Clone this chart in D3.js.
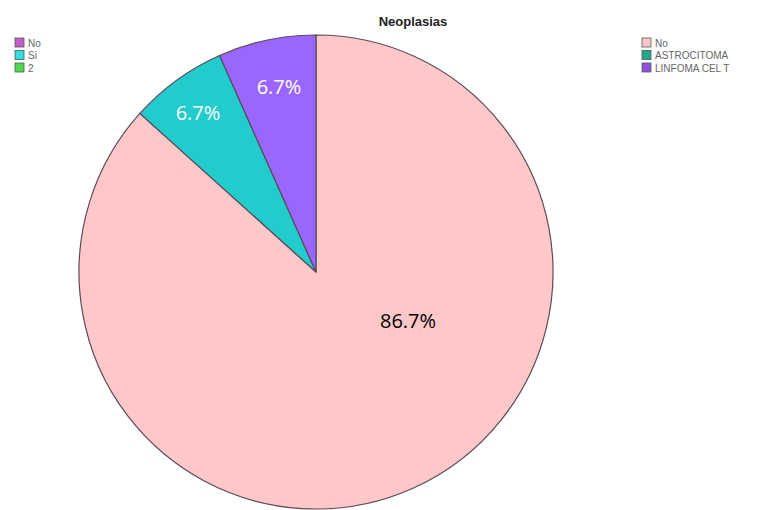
<!DOCTYPE html>
<html><head><meta charset="utf-8">
<script src="https://cdn.jsdelivr.net/npm/d3@7"></script>
<style>body{margin:0;background:#fff}</style>
</head><body>
<svg id="c" width="767" height="510"></svg>
<script>
const categories = ["No", "ASTROCITOMA", "LINFOMA CEL T"];
const values = [13, 1, 1];
const labels = ["86.7%", "6.7%", "6.7%"];
const colors = ["#FFC8C8", "#22CCCC", "#9966FF"];
const legendLeft = ["No", "Si", "2"];
const legendLeftColors = ["#C060C8", "#30E0E0", "#50D850"];
const legendRightColors = ["#FFC8C8", "#20A890", "#9050E0"];

const svg = d3.select("#c");
const cx = 316, cy = 272, r = 237;
const g = svg.append("g").attr("transform", `translate(${cx},${cy})`);
const pie = d3.pie().value(d => d).sort(null);
const arcs = pie(values);
const arc = d3.arc().innerRadius(0).outerRadius(r);
g.selectAll("path").data(arcs).join("path")
  .attr("d", arc).attr("fill", (d, i) => colors[i])
  .attr("stroke", "#5a4a5a").attr("stroke-width", 1.2);

const labelPos = [[92, 48], [-118, -160], [-37, -186]];
g.selectAll("text.lbl").data(arcs).join("text")
  .attr("class", "lbl")
  .attr("x", (d, i) => labelPos[i][0]).attr("y", (d, i) => labelPos[i][1])
  .attr("text-anchor", "middle").attr("dominant-baseline", "central")
  .attr("font-family", "Open Sans, sans-serif").attr("font-size", 20)
  .attr("fill", (d, i) => i === 0 ? "#000" : "#fff")
  .text((d, i) => labels[i]);

svg.append("text").attr("x", 413).attr("y", 26).attr("text-anchor", "middle")
  .attr("font-family", "Liberation Sans, Arial, sans-serif").attr("font-weight", "bold")
  .attr("font-size", 13).attr("fill", "#222").text("Neoplasias");

function legend(x, y, items, cols) {
  const lg = svg.append("g").attr("transform", `translate(${x},${y})`);
  items.forEach((t, i) => {
    lg.append("rect").attr("x", 0).attr("y", i * 12.5).attr("width", 9).attr("height", 9)
      .attr("fill", cols[i]).attr("stroke", "#555").attr("stroke-width", 0.8);
    lg.append("text").attr("x", 13).attr("y", i * 12.5 + 8.5)
      .attr("font-family", "Liberation Sans, Arial, sans-serif").attr("font-size", 10)
      .attr("fill", "#666").text(t);
  });
}
legend(15, 38, legendLeft, legendLeftColors);
legend(642, 38, categories, legendRightColors);
</script>
</body></html>
